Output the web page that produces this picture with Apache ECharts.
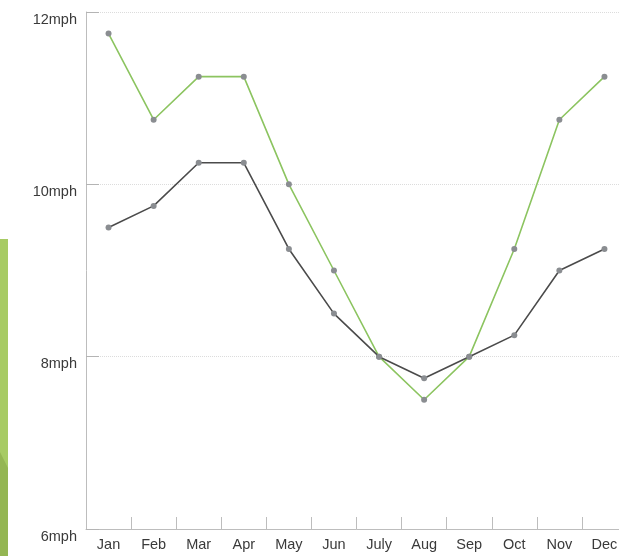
<!DOCTYPE html>
<html>
<head>
<meta charset="utf-8">
<script src="https://cdn.jsdelivr.net/npm/echarts@6/dist/echarts.min.js"></script>
<style>
html,body{margin:0;padding:0;background:#fff;overflow:hidden;}
#c{width:640px;height:556px;}
</style>
</head>
<body>
<div id="c"></div>
<script>
const months = ['Jan','Feb','Mar','Apr','May','Jun','July','Aug','Sep','Oct','Nov','Dec'];
const greenSeries = [11.75,10.75,11.25,11.25,10,9,8,7.5,8,9.25,10.75,11.25];
const darkSeries = [9.5,9.75,10.25,10.25,9.25,8.5,8,7.75,8,8.25,9,9.25];
const yMin = 6, yMax = 12, yStep = 2;

const chart = echarts.init(document.getElementById('c'), null, {renderer:'canvas'});
const font = 'Liberation Sans, Arial, Helvetica, sans-serif';
chart.setOption({
  animation:false,
  backgroundColor:'#fff',
  grid:{left:86, top:12, width:541, height:517, containLabel:false},
  xAxis:{
    type:'category', data:months, boundaryGap:true,
    axisLine:{lineStyle:{color:'#bdbdbd', width:1}},
    axisTick:{show:true, alignWithLabel:false, inside:true, length:12, lineStyle:{color:'#bdbdbd'}},
    axisLabel:{color:'#3a3a3a', fontSize:14.5, fontFamily:font, margin:8}
  },
  yAxis:[{
    type:'value', min:yMin, max:yMax, interval:yStep,
    axisLine:{show:true, lineStyle:{color:'#bdbdbd', width:1}},
    axisTick:{show:false},
    axisLabel:{color:'#3a3a3a', fontSize:14.5, fontFamily:font, margin:9, verticalAlign:'top', formatter:v=>v+'mph'},
    splitLine:{show:true, lineStyle:{color:'#dcdcdc', type:'dotted'}},
    z:0
  },{
    type:'value', min:yMin, max:yMax, interval:yStep, position:'left', offset:0,
    axisLine:{show:false},
    axisTick:{show:true, inside:true, length:13, lineStyle:{color:'#b4b4b4', width:1}},
    axisLabel:{show:false},
    splitLine:{show:false},
    z:1
  }],
  graphic:[
    {type:'rect', shape:{x:0,y:239,width:8,height:317}, style:{fill:'#a7cb64'}},
    {type:'polygon', shape:{points:[[0,452],[8,468],[8,556],[0,556]]}, style:{fill:'#94b653'}}
  ],
  series:[
    {type:'line', data:greenSeries, symbol:'circle', symbolSize:6,
     lineStyle:{color:'#8cc460', width:1.6}, itemStyle:{color:'#8a8d91'}, z:2},
    {type:'line', data:darkSeries, symbol:'circle', symbolSize:6,
     lineStyle:{color:'#4b4b4b', width:1.6}, itemStyle:{color:'#8a8d91'}, z:3}
  ]
});
</script>
</body>
</html>
